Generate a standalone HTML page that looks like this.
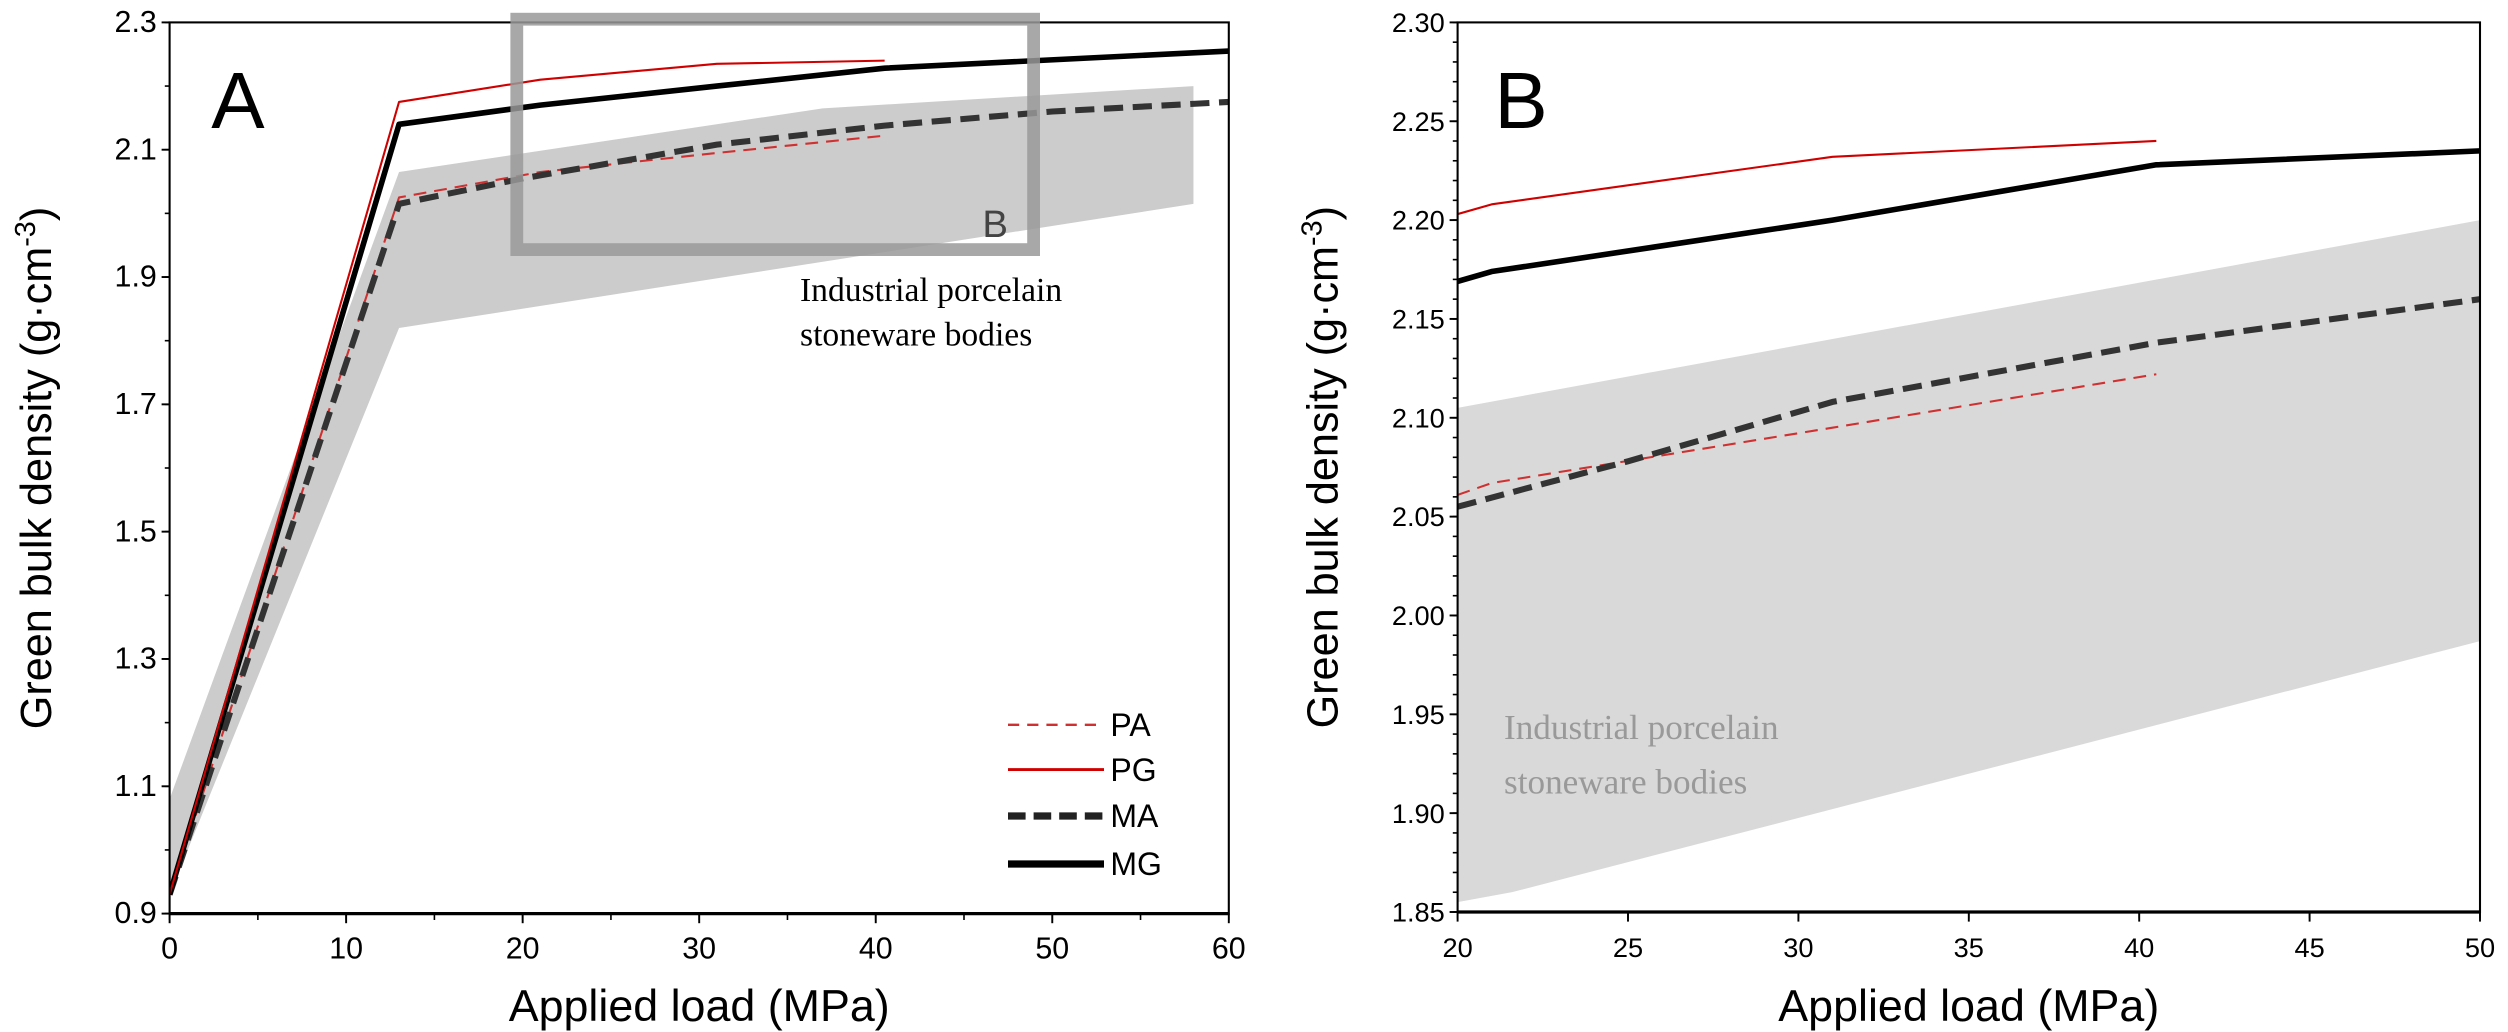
<!DOCTYPE html>
<html><head><meta charset="utf-8"><style>
body{margin:0;background:#fff;}
svg{display:block;font-family:"Liberation Sans",sans-serif;}
</style></head><body>
<svg id="chart" width="2508" height="1032" viewBox="0 0 1567.5 645"></svg>
<script>
const pgA_x = [0, 13, 21, 31, 40.5];
const pgA_y = [0.93, 2.175, 2.21, 2.235, 2.24];
const mgA_x = [0, 13, 21, 31, 40.5, 60];
const mgA_y = [0.93, 2.14, 2.17, 2.2, 2.228, 2.255];
const maA_x = [0, 13, 20, 31, 40.5, 50, 60];
const maA_y = [0.93, 2.015, 2.055, 2.108, 2.138, 2.16, 2.175];
const paA_x = [0, 13, 21, 31, 40.5];
const paA_y = [0.93, 2.025, 2.065, 2.095, 2.122];
const bandUpA_x = [0, 13, 37, 58];
const bandUpA_y = [1.08, 2.065, 2.165, 2.2];
const bandLoA_x = [0, 13, 58];
const bandLoA_y = [0.93, 1.82, 2.015];
const xTicksA = [0, 10, 20, 30, 40, 50, 60];
const yTicksA = [0.9, 1.1, 1.3, 1.5, 1.7, 1.9, 2.1, 2.3];

const pgB_x = [20, 21, 31, 40.5];
const pgB_y = [2.203, 2.208, 2.232, 2.24];
const mgB_x = [20, 21, 31, 40.5, 50];
const mgB_y = [2.169, 2.174, 2.2, 2.228, 2.235];
const maB_x = [20, 25, 31, 40.5, 50];
const maB_y = [2.055, 2.078, 2.108, 2.138, 2.16];
const paB_x = [20, 21, 31, 40.5];
const paB_y = [2.061, 2.067, 2.095, 2.122];
const bandUpB_x = [20, 50];
const bandUpB_y = [2.105, 2.2];
const bandLoB_x = [20, 21.6, 50];
const bandLoB_y = [1.855, 1.86, 1.987];
const xTicksB = [20, 25, 30, 35, 40, 45, 50];
const yTicksB = [1.85, 1.90, 1.95, 2.00, 2.05, 2.10, 2.15, 2.20, 2.25, 2.30];

const svg = document.getElementById('chart');
const NS = 'http://www.w3.org/2000/svg';
function mk(tag, attrs, parent) {
  const e = document.createElementNS(NS, tag);
  for (const k in attrs) e.setAttribute(k, attrs[k]);
  (parent || svg).appendChild(e);
  return e;
}
function lin(d0, d1, r0, r1) { return v => r0 + (v - d0) / (d1 - d0) * (r1 - r0); }
function pts(xs, ys, sx, sy) { return xs.map((x, i) => sx(x).toFixed(1) + ',' + sy(ys[i]).toFixed(1)).join(' '); }

function panel(o) {
  const sx = lin(o.xd[0], o.xd[1], o.L, o.R);
  const sy = lin(o.yd[0], o.yd[1], o.B, o.T);
  const g = mk('g', {});
  
  
  const clipId = o.name + '-clip';
  const cp = mk('clipPath', {id: clipId}, g);
  mk('rect', {x: o.L, y: o.T, width: o.R - o.L, height: o.B - o.T}, cp);
  const pg = mk('g', {'clip-path': 'url(#' + clipId + ')'}, g);
  const up = o.bandUp[0].map((x, i) => [x, o.bandUp[1][i]]);
  const lo = o.bandLo[0].map((x, i) => [x, o.bandLo[1][i]]).reverse();
  const band = mk('polygon', {points: up.concat(lo).map(p => sx(p[0]).toFixed(1) + ',' + sy(p[1]).toFixed(1)).join(' '), fill: o.bandFill}, pg);
  
  
  const series = [
    {n: 'series-pa', d: o.pa, c: '#d03030', w: 1.3, da: '8 5'},
    {n: 'series-ma', d: o.ma, c: '#333', w: 3.8, da: '12 6'},
    {n: 'series-mg', d: o.mg, c: '#000', w: 3.5, da: ''},
    {n: 'series-pg', d: o.pg, c: '#d00000', w: 1.3, da: ''}
  ];
  series.forEach(s => {
    const l = mk('polyline', {points: pts(s.d[0], s.d[1], sx, sy), fill: 'none', stroke: s.c, 'stroke-width': s.w, 'stroke-dasharray': s.da, 'stroke-linejoin': 'round'}, pg);
    
    
  });
  const fr = mk('rect', {x: o.L, y: o.T, width: o.R - o.L, height: o.B - o.T, fill: 'none', stroke: '#000', 'stroke-width': 1.3}, g);
  
  
  mk('line', {x1: o.L, x2: o.R, y1: o.B, y2: o.B, stroke: '#000', 'stroke-width': 2}, g);
  o.xt.forEach(v => {
    mk('line', {x1: sx(v), x2: sx(v), y1: o.B, y2: o.B + 6, stroke: '#000', 'stroke-width': 1.2}, g);
    const t = mk('text', {x: sx(v), y: o.B + 28, 'font-size': o.tfs, 'text-anchor': 'middle', fill: '#000'}, g);
    t.textContent = String(v);
    
    
  });
  for (let v = o.xd[0]; v <= o.xd[1] + 1e-9; v += o.xminor) mk('line', {x1: sx(v), x2: sx(v), y1: o.B, y2: o.B + 4, stroke: '#000', 'stroke-width': 1}, g);
  o.yt.forEach(v => {
    mk('line', {x1: o.L - 5, x2: o.L, y1: sy(v), y2: sy(v), stroke: '#000', 'stroke-width': 1.2}, g);
    const t = mk('text', {x: o.L - 8, y: sy(v) + 6, 'font-size': o.tfs, 'text-anchor': 'end', fill: '#000'}, g);
    t.textContent = v.toFixed(o.yDec);
    
    
  });
  for (let v = o.yd[0]; v <= o.yd[1] + 1e-9; v += o.yminor) mk('line', {x1: o.L - 3, x2: o.L, y1: sy(v), y2: sy(v), stroke: '#000', 'stroke-width': 1}, g);
  const xt = mk('text', {x: (o.L + o.R) / 2, y: 638, 'font-size': 28, 'text-anchor': 'middle'}, g);
  xt.textContent = 'Applied load (MPa)';
  
  
  const yt = mk('text', {x: 0, y: 0, 'font-size': 27, 'text-anchor': 'middle', transform: 'translate(' + o.ytx + ',' + ((o.T + o.B) / 2) + ') rotate(-90)'}, g);
  yt.innerHTML = 'Green bulk density (g·cm<tspan dy="-10" font-size="18">-3</tspan><tspan dy="10">)</tspan>';
  
  
  const pl = mk('text', {x: o.lx, y: 80, 'font-size': 50}, g);
  pl.textContent = o.label;
  
  
  return {g, sx, sy};
}

const A = panel({name: 'panel-a', L: 106, R: 768, T: 14, B: 571, xd: [0, 60], yd: [0.9, 2.3],
  xt: xTicksA, yt: yTicksA, xminor: 5, yminor: 0.1, yDec: 1, tfs: 19, ytx: 32, lx: 132, label: 'A',
  pa: [paA_x, paA_y], pg: [pgA_x, pgA_y], ma: [maA_x, maA_y], mg: [mgA_x, mgA_y],
  bandUp: [bandUpA_x, bandUpA_y], bandLo: [bandLoA_x, bandLoA_y], bandFill: '#cccccc'
});
const zb = mk('rect', {x: 323, y: 12, width: 323, height: 144, fill: 'none', stroke: '#999', 'stroke-width': 8, opacity: 0.85}, A.g);


const zbl = mk('text', {x: 614, y: 148, 'font-size': 24, fill: '#444'}, A.g);
zbl.textContent = 'B';


const ta = mk('text', {x: 500, y: 188, 'font-size': 21, 'font-family': '"Liberation Serif",serif'}, A.g);
ta.innerHTML = '<tspan x="500">Industrial porcelain</tspan><tspan x="500" dy="28">stoneware bodies</tspan>';


const legend = mk('g', {});


const legItems = [['PA', '#d03030', 1.5, '7 5', 453], ['PG', '#d00000', 1.8, '', 481], ['MA', '#222', 4.5, '11 5', 510], ['MG', '#000', 4.5, '', 540]];
legItems.forEach(it => {
  const e = mk('g', {}, legend);
  
  
  mk('line', {x1: 630, x2: 690, y1: it[4], y2: it[4], stroke: it[1], 'stroke-width': it[2], 'stroke-dasharray': it[3]}, e);
  const t = mk('text', {x: 694, y: it[4] + 7, 'font-size': 20}, e);
  t.textContent = it[0];
});

const B = panel({name: 'panel-b', L: 911, R: 1550, T: 14, B: 570, xd: [20, 50], yd: [1.85, 2.30],
  xt: xTicksB, yt: yTicksB, xminor: 5, yminor: 0.01, yDec: 2, tfs: 17, ytx: 836, lx: 934, label: 'B',
  pa: [paB_x, paB_y], pg: [pgB_x, pgB_y], ma: [maB_x, maB_y], mg: [mgB_x, mgB_y],
  bandUp: [bandUpB_x, bandUpB_y], bandLo: [bandLoB_x, bandLoB_y], bandFill: '#d9d9d9'
});
const tb = mk('text', {x: 940, y: 462, 'font-size': 22, fill: '#999', 'font-family': '"Liberation Serif",serif'}, B.g);
tb.innerHTML = '<tspan x="940">Industrial porcelain</tspan><tspan x="940" dy="34">stoneware bodies</tspan>';


</script>
</body></html>
